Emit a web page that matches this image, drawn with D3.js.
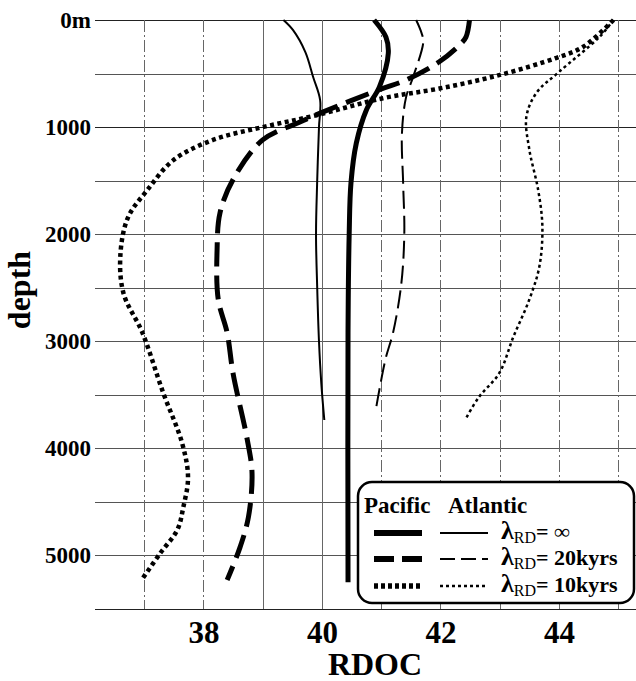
<!DOCTYPE html>
<html lang="en">
<head>
<meta charset="UTF-8">
<title>RDOC depth profiles</title>
<script src="https://d3js.org/d3.v7.min.js"></script>
<style>
  body { margin: 0; background: #fff; }
  svg { font-family: "Liberation Serif", "DejaVu Serif", serif; font-weight: bold; }
  .grid line { stroke: #555; stroke-width: 1; shape-rendering: crispEdges; }
</style>
</head>
<body>
<script>
// depth (m) / RDOC values
var pacInfDepth = [0, 160, 310, 625, 840, 1150, 1520, 1990, 2920, 5250];
var pacInf      = [40.88, 41.08, 41.12, 40.97, 40.75, 40.58, 40.49, 40.46, 40.44, 40.44];

var atlInfDepth = [0, 93, 300, 530, 750, 1000, 1500, 2000, 2500, 3000, 3400, 3735];
var atlInf      = [39.35, 39.51, 39.72, 39.85, 39.97, 39.95, 39.92, 39.9, 39.92, 39.95, 39.99, 40.04];

var pac20Depth = [0, 160, 235, 390, 560, 650, 870, 960, 1120, 1490, 1800, 2150, 2610, 2920, 3300, 3920, 4230, 4640, 4920, 5230];
var pac20      = [42.49, 42.43, 42.32, 41.98, 41.42, 40.97, 39.97, 39.6, 39.0, 38.5, 38.28, 38.23, 38.25, 38.4, 38.5, 38.74, 38.82, 38.76, 38.62, 38.4];

var atl20Depth = [0, 120, 205, 530, 720, 1060, 1520, 1990, 2460, 2920, 3150, 3450, 3670];
var atl20      = [41.59, 41.68, 41.71, 41.54, 41.42, 41.35, 41.37, 41.39, 41.34, 41.2, 41.08, 40.97, 40.9];

var pac10Depth = [0, 250, 355, 515, 640, 730, 890, 1000, 1120, 1310, 1590, 1840, 2180, 2550, 2920, 3480, 3950, 4270, 4550, 4760, 4980, 5210];
var pac10      = [44.92, 44.41, 43.95, 42.99, 41.98, 41.03, 39.9, 39.0, 38.16, 37.49, 37.05, 36.73, 36.6, 36.65, 36.97, 37.32, 37.64, 37.74, 37.66, 37.56, 37.27, 36.98];

var atl10Depth = [0, 160, 485, 680, 905, 1210, 1590, 1930, 2300, 2610, 2960, 3300, 3520, 3720];
var atl10      = [44.92, 44.68, 44.0, 43.62, 43.45, 43.5, 43.65, 43.72, 43.67, 43.5, 43.23, 42.99, 42.65, 42.43];

var xTicks = [38, 40, 42, 44];
var yTicks = [0, 1000, 2000, 3000, 4000, 5000];
var yTickLabels = ["0m", "1000", "2000", "3000", "4000", "5000"];
var xGrid = [37, 38, 39, 40, 41, 42, 43, 44, 45];
var yGrid = [0, 500, 1000, 1500, 2000, 2500, 3000, 3500, 4000, 4500, 5000, 5500];
var legendLabels = ["= \u221e", "= 20kyrs", "= 10kyrs"];

var width = 636, height = 681;
var pLeft = 95, pRight = 636, pTop = 20, pBottom = 609;

var svg = d3.select("body").append("svg")
    .attr("width", width)
    .attr("height", height);

var x = d3.scaleLinear().domain([36.17, 45.3]).range([pLeft, pRight]);
var y = d3.scaleLinear().domain([0, 5500]).range([pTop, pBottom]);

// grid
var grid = svg.append("g").attr("class", "grid");
grid.selectAll(".h").data(yGrid).enter().append("line")
    .attr("x1", pLeft).attr("x2", pRight)
    .attr("y1", function(d) { return Math.round(y(d)) + 0.5; })
    .attr("y2", function(d) { return Math.round(y(d)) + 0.5; })
    .style("stroke", function(d) { return d === 0 || d === 5500 || d === 1000 ? "#222" : "#555"; });
grid.selectAll(".v").data(xGrid).enter().append("line")
    .attr("x1", function(d) { return Math.round(x(d)) + 0.5; })
    .attr("x2", function(d) { return Math.round(x(d)) + 0.5; })
    .attr("y1", pTop).attr("y2", pBottom)
    .style("stroke", "#666")
    .style("stroke-dasharray", function(d) { return (d === 39 || d === 40) ? null : "12,3,2,3"; });

// y axis labels
var yAxis = d3.axisLeft(y).tickValues(yTicks).tickSize(0).tickPadding(4)
    .tickFormat(function(d, i) { return yTickLabels[i]; });
svg.append("g").attr("transform", "translate(" + pLeft + ",0)").call(yAxis)
    .call(function(g) { g.select(".domain").remove(); })
    .selectAll("text")
    .attr("font-family", "Liberation Serif").attr("font-weight", "bold")
    .attr("font-size", 23).attr("fill", "#000");

// x axis labels
var xAxis = d3.axisBottom(x).tickValues(xTicks).tickSize(0).tickPadding(12);
svg.append("g").attr("transform", "translate(0," + pBottom + ")").call(xAxis)
    .call(function(g) { g.select(".domain").remove(); })
    .selectAll("text")
    .attr("font-family", "Liberation Serif").attr("font-weight", "bold")
    .attr("font-size", 31).attr("fill", "#000");

svg.append("text").attr("x", 375).attr("y", 675).attr("text-anchor", "middle")
    .attr("font-size", 32).text("RDOC");
svg.append("text").attr("transform", "translate(30,290) rotate(-90)").attr("text-anchor", "middle")
    .attr("font-size", 32).text("depth");

// curves
var series = [
    { depth: pacInfDepth, vals: pacInf, w: 5, dash: null },
    { depth: atlInfDepth, vals: atlInf, w: 2, dash: null },
    { depth: pac20Depth, vals: pac20, w: 5, dash: "24,9" },
    { depth: atl20Depth, vals: atl20, w: 2, dash: "18,7" },
    { depth: pac10Depth, vals: pac10, w: 4.5, dash: "4,3.5" },
    { depth: atl10Depth, vals: atl10, w: 2.5, dash: "3,3" }
];
var line = d3.line()
    .x(function(d) { return x(d[1]); })
    .y(function(d) { return y(d[0]); })
    .curve(d3.curveCatmullRom.alpha(0.5));

svg.append("g").selectAll("path").data(series).enter().append("path")
    .attr("d", function(s) { return line(d3.zip(s.depth, s.vals)); })
    .attr("fill", "none").attr("stroke", "#000")
    .attr("stroke-width", function(s) { return s.w; })
    .attr("stroke-dasharray", function(s) { return s.dash; });

// legend
var lg = svg.append("g");
lg.append("rect").attr("x", 358).attr("y", 482).attr("width", 276).attr("height", 121)
    .attr("rx", 14).attr("fill", "#fff").attr("stroke", "#000").attr("stroke-width", 2.5);
lg.append("text").attr("x", 364).attr("y", 513).attr("font-size", 23).text("Pacific");
lg.append("text").attr("x", 448).attr("y", 513).attr("font-size", 23).text("Atlantic");
var rowY = [533, 559, 586];
var pacStyles = [series[0], series[2], series[4]];
var atlStyles = [series[1], series[3], series[5]];
var legendDash = [[null, null], ["20,8", "15,6"], ["4,3", "3,3"]];
rowY.forEach(function(ry, i) {
    lg.append("line").attr("x1", 374).attr("x2", 422).attr("y1", ry).attr("y2", ry)
        .attr("stroke", "#000").attr("stroke-width", pacStyles[i].w + 1)
        .attr("stroke-dasharray", legendDash[i][0]);
    lg.append("line").attr("x1", 440).attr("x2", 488).attr("y1", ry).attr("y2", ry)
        .attr("stroke", "#000").attr("stroke-width", atlStyles[i].w)
        .attr("stroke-dasharray", legendDash[i][1]);
    var t = lg.append("text").attr("x", 501).attr("y", ry + 6).attr("font-size", 22);
    t.append("tspan").attr("font-size", 26).text("\u03bb");
    t.append("tspan").attr("font-size", 16).attr("font-weight", "normal").attr("dy", 4).text("RD");
    t.append("tspan").attr("dy", -4).text(legendLabels[i]);
});
</script>
</body>
</html>
